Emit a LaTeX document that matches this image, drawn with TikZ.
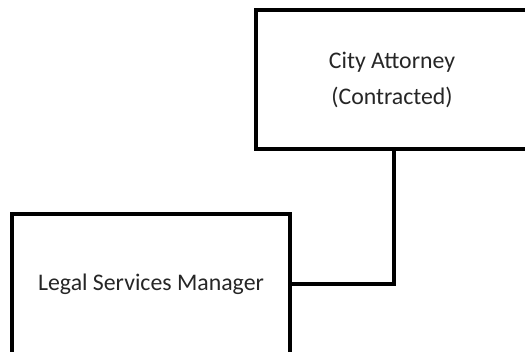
\documentclass[tikz,border=0pt]{standalone}
\usepackage{fontspec}
\setmainfont{Carlito}
\begin{document}
\begin{tikzpicture}[x=1pt,y=1pt,
  orgbox/.style={draw=black, line width=3.4pt, fill=white, inner sep=0pt, align=center,
    font=\fontsize{23.8}{36}\selectfont, text=black!85},
  link/.style={draw=black, line width=3.4pt}]
\useasboundingbox (0,0) rectangle (525,351);
\clip (0,0) rectangle (525,351);
\node[orgbox, minimum width=300pt, minimum height=139pt] (ca) at (406,271.5) {};
\node[align=center, inner sep=0pt, font=\fontsize{23.8}{36}\selectfont, text=black!85] (catext) at (392,271.5) {City Attorney\\(Contracted)};
\node[orgbox, minimum width=278pt, minimum height=140pt] (lsm) at (151,67) {Legal Services Manager};
\coordinate (cx) at (394,0);
\draw[link] (lsm.east) -| (cx |- ca.south);
\end{tikzpicture}
\end{document}
